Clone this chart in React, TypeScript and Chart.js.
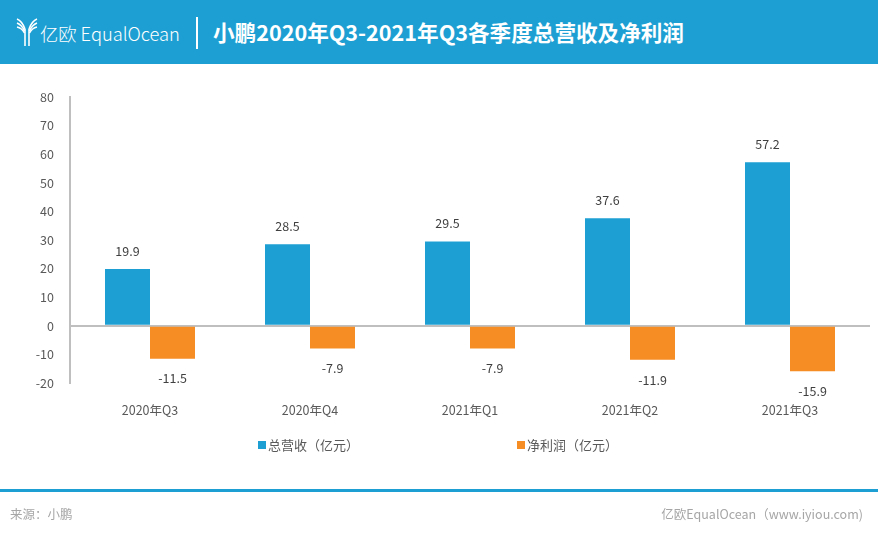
import React, { useEffect, useRef } from "react";
import { Chart, registerables } from "chart.js";

Chart.register(...registerables);

const categories = ["2020年Q3", "2020年Q4", "2021年Q1", "2021年Q2", "2021年Q3"];
const revenue = [19.9, 28.5, 29.5, 37.6, 57.2];
const netProfit = [-11.5, -7.9, -7.9, -11.9, -15.9];
const seriesNames = ["总营收（亿元）", "净利润（亿元）"];
const yMin = -20;
const yMax = 80;
const yStep = 10;

const BLUE = "#1E9FD3";
const ORANGE = "#F68D24";
const FONT = "'Noto Sans CJK SC', 'Noto Sans', sans-serif";

const labelPlugin = {
  id: "valueLabels",
  afterDatasetsDraw(chart: any) {
    const ctx = chart.ctx;
    ctx.save();
    ctx.font = `12.5px ${FONT}`;
    ctx.fillStyle = "#404040";
    ctx.textAlign = "center";
    ctx.textBaseline = "middle";
    chart.data.datasets.forEach((ds: any, i: number) => {
      const meta = chart.getDatasetMeta(i);
      meta.data.forEach((el: any, j: number) => {
        const v = ds.data[j];
        const y = v >= 0 ? el.y - 18 : el.y + 20;
        ctx.fillText(String(v), el.x, y);
      });
    });
    ctx.restore();
  },
};

function Logo() {
  return (
    <svg width="22" height="30" viewBox="0 0 22 30" style={{ position: "absolute", left: 16, top: 17 }}>
      <g fill="none" stroke="#fff" strokeWidth="1.6">
        <path d="M1 2 Q6 4 9 12" />
        <path d="M1 6 Q6 8 8.5 14" />
        <path d="M1 10 Q6 11 8.5 16" />
        <path d="M21 2 Q16 4 13 12" />
        <path d="M21 6 Q16 8 13.5 14" />
        <path d="M21 10 Q16 11 13.5 16" />
        <path d="M9 12 L9 29" />
        <path d="M13 12 L13 29" />
      </g>
    </svg>
  );
}

export default function App() {
  const canvasRef = useRef<HTMLCanvasElement>(null);

  useEffect(() => {
    document.body.style.margin = "0";
    const chart = new Chart(canvasRef.current as HTMLCanvasElement, {
      type: "bar",
      data: {
        labels: categories,
        datasets: [
          { label: seriesNames[0], data: revenue, backgroundColor: BLUE, categoryPercentage: 0.5625, barPercentage: 1 },
          { label: seriesNames[1], data: netProfit, backgroundColor: ORANGE, categoryPercentage: 0.5625, barPercentage: 1 },
        ],
      },
      options: {
        responsive: false,
        animation: false,
        layout: { padding: { top: 97, right: 10, left: 0, bottom: 0 } },
        plugins: { legend: { display: false }, tooltip: { enabled: false } },
        scales: {
          x: {
            grid: { display: false, drawTicks: false },
            border: { display: false },
            ticks: { color: "#595959", font: { family: FONT, size: 12.5 }, padding: 20 },
            afterFit: (s: any) => { s.height = 152; },
          },
          y: {
            min: yMin,
            max: yMax,
            ticks: { stepSize: yStep, color: "#595959", font: { family: FONT, size: 12.5 }, padding: 16 },
            grid: {
              drawTicks: false,
              color: (c: any) => (c.tick && c.tick.value === 0 ? "#BFBFBF" : "rgba(0,0,0,0)"),
              lineWidth: 2,
            },
            border: { display: true, color: "#BFBFBF", width: 2 },
            afterFit: (s: any) => { s.width = 70; },
          },
        },
      },
      plugins: [labelPlugin],
    });
    return () => chart.destroy();
  }, []);

  return (
    <div style={{ position: "fixed", left: 0, top: 0, width: 880, height: 535, background: "#fff", overflow: "hidden", fontFamily: FONT }}>
      <canvas ref={canvasRef} width={880} height={535} style={{ position: "absolute", left: 0, top: 0 }} />
      <div style={{ position: "absolute", left: 0, top: 0, width: 878, height: 64, background: BLUE }}>
        <Logo />
        <div style={{ position: "absolute", left: 40, top: 20, color: "#fff", fontSize: 18.3, fontWeight: 300, fontFamily: "'Noto Sans CJK SC', sans-serif", letterSpacing: 0 }}>
          亿欧 EqualOcean
        </div>
        <div style={{ position: "absolute", left: 196, top: 17, width: 2, height: 32, background: "#fff" }} />
        <div style={{ position: "absolute", left: 213, top: 18, color: "#fff", fontSize: 21.6, fontWeight: 700, whiteSpace: "nowrap", lineHeight: "28px" }}>
          小鹏2020年Q3-2021年Q3各季度总营收及净利润
        </div>
      </div>
      <div style={{ position: "absolute", left: 258, top: 435, display: "flex", alignItems: "center", fontSize: 13, color: "#595959" }}>
        <span style={{ width: 8, height: 8, background: BLUE, display: "inline-block", marginRight: 2 }} />
        <span>{seriesNames[0]}</span>
      </div>
      <div style={{ position: "absolute", left: 517, top: 435, display: "flex", alignItems: "center", fontSize: 13, color: "#595959" }}>
        <span style={{ width: 8, height: 8, background: ORANGE, display: "inline-block", marginRight: 2 }} />
        <span>{seriesNames[1]}</span>
      </div>
      <div style={{ position: "absolute", left: 0, top: 489, width: 878, height: 3, background: BLUE }} />
      <div style={{ position: "absolute", left: 10, top: 504, fontSize: 12.5, color: "#A6A6A6" }}>来源：小鹏</div>
      <div style={{ position: "absolute", right: 17, top: 504, fontSize: 12.5, color: "#A6A6A6" }}>亿欧EqualOcean（www.iyiou.com)</div>
    </div>
  );
}
